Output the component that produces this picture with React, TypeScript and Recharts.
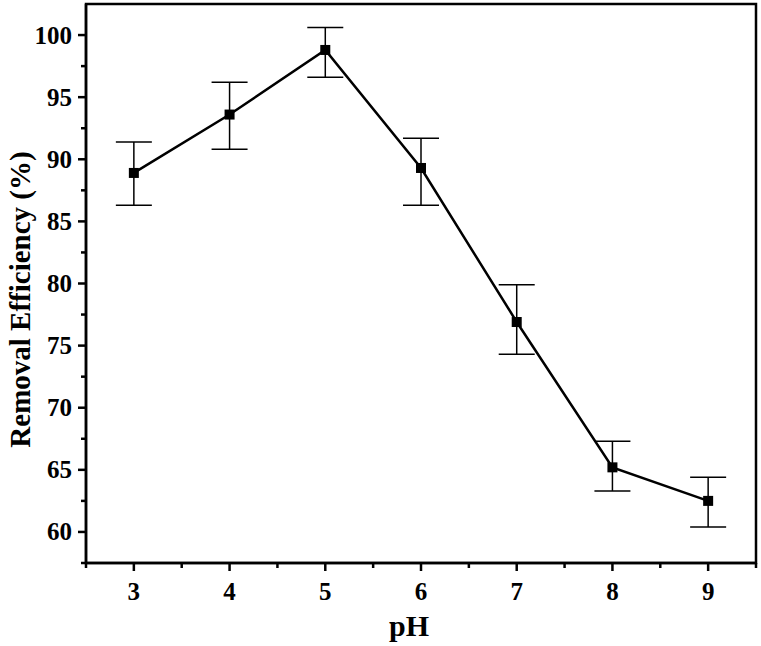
import {
  LineChart,
  Line,
  XAxis,
  YAxis,
  ErrorBar,
  ReferenceArea,
  Label
} from "recharts";

const phValues=[3,4,5,6,7,8,9]
const removal=[88.9,93.6,98.8,89.3,76.9,65.2,62.5]
const errLow=[2.6,2.8,2.2,3.0,2.6,1.9,2.1]
const errHigh=[2.5,2.6,1.8,2.4,3.0,2.1,1.9]

const xTicks=[2.5,3,3.5,4,4.5,5,5.5,6,6.5,7,7.5,8,8.5,9,9.5]
const yTicks=[57.5,60,62.5,65,67.5,70,72.5,75,77.5,80,82.5,85,87.5,90,92.5,95,97.5,100]

const data=phValues.map((ph,i)=>({
  ph,
  removal:removal[i],
  err:[errLow[i],errHigh[i]]
}))

const font='"Liberation Serif","Times New Roman",serif'

const XTick=(props:any)=>{
  const {x,y,payload}=props
  const v=payload.value
  const major=Number.isInteger(v)
  return(
    <g>
      <line x1={x} x2={x} y1={y} y2={y+(major?8:5)} stroke="#000" strokeWidth={2.5}/>
      {major&&(
        <text x={x} y={y+37} textAnchor="middle" fontFamily={font} fontWeight="bold" fontSize={25} fill="#000">{v}</text>
      )}
    </g>
  )
}

const YTick=(props:any)=>{
  const {x,y,payload}=props
  const v=payload.value
  const major=v%5===0
  return(
    <g>
      <line x1={x} x2={x-(major?8:5)} y1={y} y2={y} stroke="#000" strokeWidth={2.5}/>
      {major&&(
        <text x={x-14} y={y+8.5} textAnchor="end" fontFamily={font} fontWeight="bold" fontSize={25} fill="#000">{v}</text>
      )}
    </g>
  )
}

const Square=(props:any)=>{
  const {cx,cy}=props
  return <rect x={cx-5} y={cy-5} width={10} height={10} fill="#000"/>
}

function App(){

  return(

    <div style={{position:"absolute",left:0,top:0,background:"#fff"}}>

      <LineChart width={761} height={646} data={data} margin={{top:4,right:5,bottom:0,left:0}}>

        <XAxis
          dataKey="ph"
          type="number"
          domain={[2.5,9.5]}
          ticks={xTicks}
          interval={0}
          height={83}
          tickSize={0}
          tickMargin={0}
          tick={<XTick/>}
          axisLine={{stroke:"#000",strokeWidth:2.5}}
        >
          <Label
            content={(p:any)=>{
              const vb=p.viewBox
              return(
                <text x={vb.x+vb.width/2-12} y={vb.y+73} textAnchor="middle" fontFamily={font} fontWeight="bold" fontSize={30} fill="#000">pH</text>
              )
            }}
          />
        </XAxis>

        <YAxis
          type="number"
          domain={[57.5,102.5]}
          allowDataOverflow
          ticks={yTicks}
          interval={0}
          width={86}
          tickSize={0}
          tickMargin={0}
          tick={<YTick/>}
          axisLine={{stroke:"#000",strokeWidth:2.5}}
        >
          <Label
            content={(p:any)=>{
              const vb=p.viewBox
              const cx=vb.x+20
              const cy=vb.y+vb.height/2+16
              return(
                <text x={cx} y={cy} transform={`rotate(-90 ${cx} ${cy})`} textAnchor="middle" dominantBaseline="central" fontFamily={font} fontWeight="bold" fontSize={29} fill="#000">Removal Efficiency (%)</text>
              )
            }}
          />
        </YAxis>

        <ReferenceArea x1={2.5} x2={9.5} y1={57.5} y2={102.5} fill="none" stroke="#000" strokeWidth={2.5}/>

        <Line
          type="linear"
          dataKey="removal"
          stroke="#000"
          strokeWidth={2.5}
          dot={<Square/>}
          activeDot={false}
          isAnimationActive={false}
        >
          <ErrorBar dataKey="err" direction="y" width={18} stroke="#000" strokeWidth={1.5} isAnimationActive={false}/>
        </Line>

      </LineChart>

    </div>

  )

}

export default App
